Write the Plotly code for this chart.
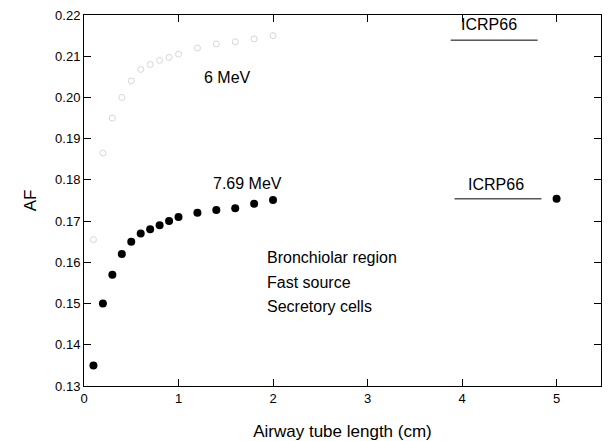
import plotly.graph_objects as go

length_cm = [0.1, 0.2, 0.3, 0.4, 0.5, 0.6, 0.7, 0.8, 0.9, 1.0, 1.2, 1.4, 1.6, 1.8, 2.0]
af_769 = [0.135, 0.150, 0.157, 0.162, 0.165, 0.167, 0.168, 0.169, 0.170, 0.171,
          0.172, 0.1727, 0.1731, 0.1742, 0.1751]
af_6 = [0.1655, 0.1865, 0.195, 0.200, 0.204, 0.2068, 0.208, 0.209, 0.2097, 0.2105,
        0.212, 0.213, 0.2135, 0.2142, 0.215]
icrp_x = [5.0]
icrp_af_769 = [0.1754]
icrp_af_6 = [0.2139]

x_ticks = [0, 1, 2, 3, 4, 5]
y_ticks = [0.13, 0.14, 0.15, 0.16, 0.17, 0.18, 0.19, 0.20, 0.21, 0.22]
y_ticklabels = ["0.13", "0.14", "0.15", "0.16", "0.17", "0.18", "0.19", "0.20", "0.21", "0.22"]
note_lines = ["Bronchiolar region", "Fast source", "Secretory cells"]

FONT = "Liberation Sans, Arial, sans-serif"

fig = go.Figure()
fig.add_trace(go.Scatter(x=length_cm, y=af_6, mode="markers",
                         marker=dict(symbol="circle-open", size=6, color="#d6d6d6",
                                     line=dict(width=1, color="#d6d6d6")),
                         showlegend=False))
fig.add_trace(go.Scatter(x=length_cm, y=af_769, mode="markers",
                         marker=dict(symbol="circle", size=8, color="black"),
                         showlegend=False))
fig.add_trace(go.Scatter(x=icrp_x, y=icrp_af_769, mode="markers",
                         marker=dict(symbol="circle", size=8, color="black"),
                         showlegend=False))

# ICRP66 reference lines
fig.add_trace(go.Scatter(x=[3.88, 4.80], y=[icrp_af_6[0]] * 2, mode="lines",
                         line=dict(color="black", width=1), showlegend=False))
fig.add_trace(go.Scatter(x=[3.92, 4.84], y=[icrp_af_769[0]] * 2, mode="lines",
                         line=dict(color="black", width=1), showlegend=False))

ann_font = dict(family=FONT, size=16, color="black")
fig.add_annotation(x=4.29, y=0.2178, text="ICRP66", showarrow=False, font=ann_font)
fig.add_annotation(x=4.36, y=0.1788, text="ICRP66", showarrow=False, font=ann_font)
fig.add_annotation(x=1.52, y=0.2048, text="6 MeV", showarrow=False, font=ann_font)
fig.add_annotation(x=1.73, y=0.1791, text="7.69 MeV", showarrow=False, font=ann_font)
for i, line in enumerate(note_lines):
    fig.add_annotation(x=1.91, y=0.1611 - i * 0.0059, xanchor="left", showarrow=False,
                       text=line, font=ann_font)

axis_common = dict(showline=True, linecolor="black", linewidth=1, mirror="ticks",
                   ticks="inside", ticklen=7, tickcolor="black", showgrid=False,
                   zeroline=False, automargin=False, ticklabeloverflow="allow",
                   tickfont=dict(family=FONT, size=13, color="black"))

fig.update_xaxes(range=[0, 5.47], tickvals=x_ticks,
                 title=dict(text="Airway tube length (cm)", font=dict(family=FONT, size=17, color="black"),
                            standoff=20),
                 **axis_common)
fig.update_yaxes(range=[0.13, 0.22], tickvals=y_ticks, ticktext=y_ticklabels,
                 title=dict(text="AF", font=dict(family=FONT, size=17, color="black"), standoff=14),
                 **axis_common)

# page body adds an 8px offset; figure sized to fit the window exactly
fig.update_layout(width=606, height=433, margin=dict(l=76, r=13, t=7, b=55),
                  plot_bgcolor="white", paper_bgcolor="white")

fig.write_html("out.html")
